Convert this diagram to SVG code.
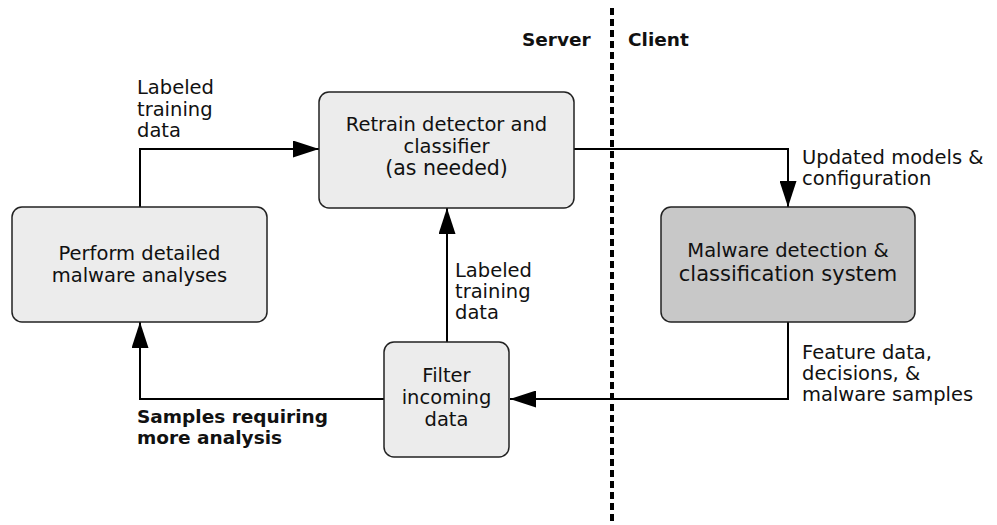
<svg xmlns="http://www.w3.org/2000/svg" width="997" height="525" viewBox="0 0 997 525">
  <style>
    .box { fill: #ececec; stroke: #222; stroke-width: 1.5; }
    .box.dark { fill: #c8c8c8; }
    .t { font-family: "DejaVu Sans", "Liberation Sans", sans-serif; font-size: 19.5px; fill: #111; }
    .c { text-anchor: middle; }
    .b { font-weight: bold; font-size: 18.5px; }
    .wire { fill: none; stroke: #000; stroke-width: 2; }
    .divider { fill: none; stroke: #000; stroke-width: 4; stroke-dasharray: 7 4; }
  </style>
  <defs>
    <marker id="arrow" viewBox="0 0 26 17" refX="26" refY="8.5" markerWidth="26" markerHeight="17" markerUnits="userSpaceOnUse" orient="auto">
      <path d="M0,0 L26,8.5 L0,17 Z" fill="#000"/>
    </marker>
  </defs>

  <rect width="997" height="525" fill="#fff"/>

  <!-- server / client divider -->
  <g id="divider">
    <line class="divider" x1="612" y1="8" x2="612" y2="524"/>
    <text class="t b" x="522" y="46">Server</text>
    <text class="t b" x="628" y="46">Client</text>
  </g>

  <!-- connectors -->
  <g id="connectors">
    <polyline class="wire" points="140,207 140,149 319,149" marker-end="url(#arrow)"/>
    <polyline class="wire" points="574,149 788,149 788,207" marker-end="url(#arrow)"/>
    <polyline class="wire" points="788,322 788,399 510,399" marker-end="url(#arrow)"/>
    <line class="wire" x1="447" y1="342" x2="447" y2="208" marker-end="url(#arrow)"/>
    <polyline class="wire" points="384,399 140,399 140,322" marker-end="url(#arrow)"/>
  </g>

  <!-- connector labels -->
  <g id="labels">
    <text class="t" x="137" y="94">Labeled</text>
    <text class="t" x="137" y="116">training</text>
    <text class="t" x="137" y="137">data</text>

    <text class="t" x="455" y="277">Labeled</text>
    <text class="t" x="455" y="298">training</text>
    <text class="t" x="455" y="319">data</text>

    <text class="t" x="802" y="164">Updated models &amp;</text>
    <text class="t" x="802" y="185">configuration</text>

    <text class="t" x="802" y="359">Feature data,</text>
    <text class="t" x="802" y="380">decisions, &amp;</text>
    <text class="t" x="802" y="401">malware samples</text>

    <text class="t b" x="137" y="423">Samples requiring</text>
    <text class="t b" x="137" y="444">more analysis</text>
  </g>

  <!-- nodes -->
  <g id="analyses">
    <rect class="box" x="12" y="207" width="255" height="115" rx="10"/>
    <text class="t c" x="139.5" y="260">Perform detailed</text>
    <text class="t c" x="139.5" y="282">malware analyses</text>
  </g>

  <g id="retrain">
    <rect class="box" x="319" y="92" width="255" height="116" rx="10"/>
    <text class="t c" x="446.5" y="131">Retrain detector and</text>
    <text class="t c" x="446.5" y="153">classifier</text>
    <text class="t c" x="446.5" y="175" style="font-size:20.5px">(as needed)</text>
  </g>

  <g id="detection">
    <rect class="box dark" x="661" y="207" width="254" height="115" rx="10"/>
    <text class="t c" x="788" y="257">Malware detection &amp;</text>
    <text class="t c" x="788" y="281" style="font-size:21px">classification system</text>
  </g>

  <g id="filter">
    <rect class="box" x="384" y="342" width="125" height="115" rx="10"/>
    <text class="t c" x="446.5" y="382">Filter</text>
    <text class="t c" x="446.5" y="404">incoming</text>
    <text class="t c" x="446.5" y="426">data</text>
  </g>
</svg>
